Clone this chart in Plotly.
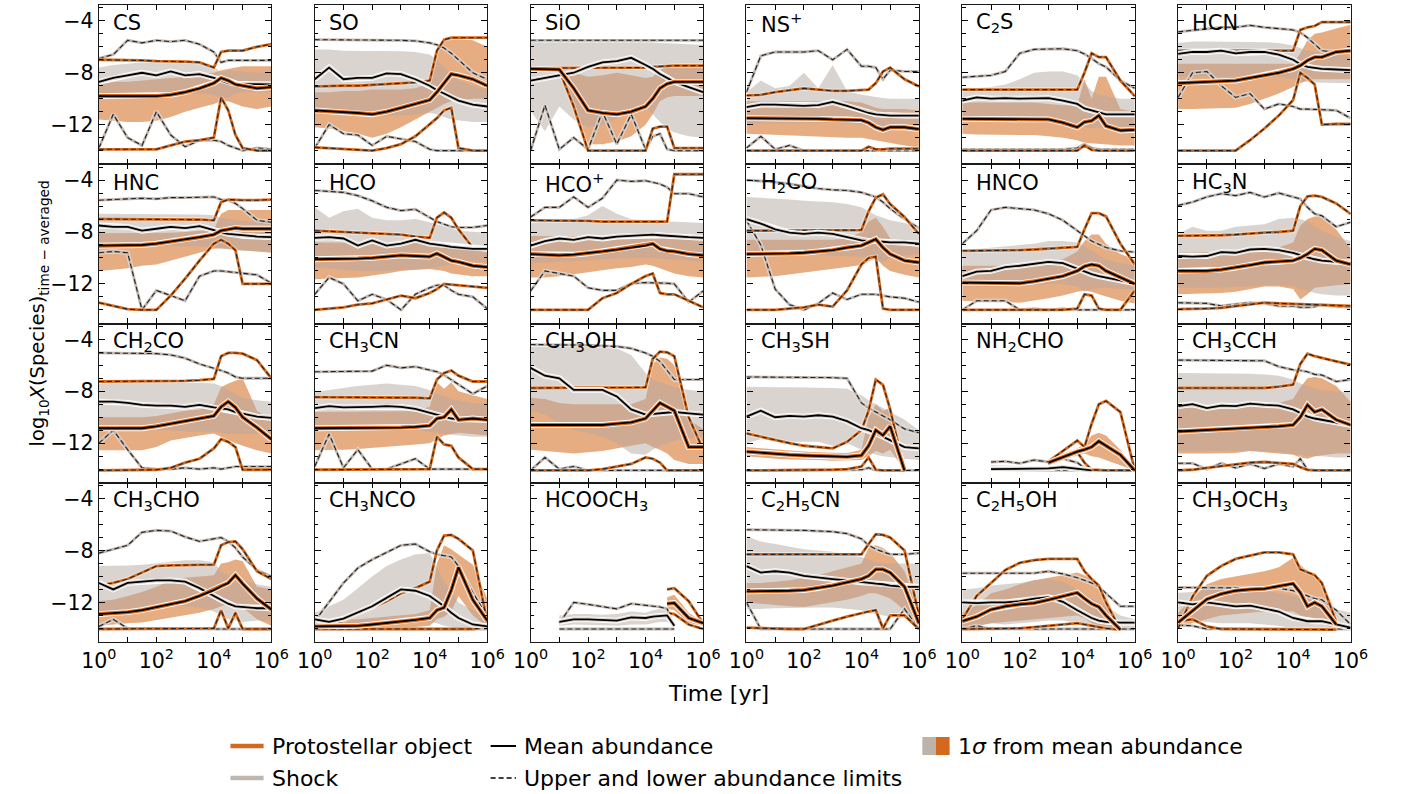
import plotly.graph_objects as go

# Time grid (log10 of years) shared by every curve
LOG_T = [0, 0.5, 1, 1.5, 2, 2.5, 3, 3.5, 4, 4.25, 4.5, 4.75, 5, 5.5, 6]
N = None

# ---- per-species abundances: mean, 1-sigma band (hi/lo), upper/lower limits ----
CS_P = dict(mean=[-9.8,-9.8,-9.8,-9.8,-9.8,-9.7,-9.5,-9.2,-8.8,-8.4,-8.6,-8.9,-9.0,-9.2,-9.1],
            s_hi=[-8.8,-8.7,-8.7,-8.6,-8.5,-8.4,-8.3,-8.1,-8.0,-7.8,-7.7,-7.6,-7.5,-7.5,-7.5],
            s_lo=[-11.6,-11.7,-11.8,-11.8,-11.7,-11.4,-11.0,-10.7,-10.4,-10.2,-10.2,-10.4,-10.6,-10.8,-10.6],
            lim_hi=[-7.0,-7.0,-7.05,-7.05,-7.1,-7.1,-7.15,-7.2,-7.6,-6.4,-6.3,-6.3,-6.3,-6.0,-5.8],
            lim_lo=[-13.9,-13.9,-13.9,-13.9,-13.9,-13.6,-13.3,-13.2,-13.0,-9.9,-10.9,-12.8,-13.8,-14.0,-14.0])
CS_S = dict(mean=[-8.7,-8.4,-8.2,-8.0,-8.2,-7.9,-8.2,-8.1,-8.4,-8.6,-8.8,-8.85,-8.85,-8.9,-8.9],
            s_hi=[-7.6,-7.4,-7.3,-7.2,-7.2,-7.2,-7.2,-7.3,-7.5,-8.0,-7.8,-7.9,-7.9,-8.0,-8.0],
            s_lo=[-9.9,-9.8,-9.7,-9.6,-9.6,-9.6,-9.6,-9.6,-9.7,-10.0,-9.9,-9.6,-9.5,-9.5,-9.5],
            lim_hi=[-6.9,-6.6,-5.5,-5.7,-5.5,-5.6,-5.5,-5.8,-6.4,-7.2,-7.05,-7.05,-7.05,-7.05,-7.05],
            lim_lo=[-13.8,-11.2,-13.0,-13.6,-11.0,-12.8,-13.7,-13.2,-13.2,-13.3,-13.6,-13.8,-14.0,-13.8,-13.9])

SO_P = dict(mean=[-10.9,-10.95,-11.0,-11.1,-11.2,-11.0,-10.7,-10.4,-10.1,-9.5,-8.8,-8.1,-8.2,-8.5,-9.0],
            s_hi=[-9.5,-9.5,-9.4,-9.4,-9.3,-9.3,-9.3,-9.2,-8.8,-6.5,-5.4,-5.3,-5.4,-5.5,-6.0],
            s_lo=[-12.2,-12.3,-12.5,-12.7,-13.0,-12.7,-12.2,-11.6,-11.0,-10.7,-10.4,-10.2,-10.1,-10.0,-10.0],
            lim_hi=[-9.05,-9.0,-9.0,-9.0,-8.95,-8.9,-8.85,-8.75,-8.6,-6.3,-5.45,-5.3,-5.3,-5.3,-5.3],
            lim_lo=[-13.75,-13.8,-13.85,-13.9,-14.0,-13.8,-13.5,-12.9,-12.0,-11.5,-10.9,-10.7,-13.8,-14.0,-14.0])
SO_S = dict(mean=[-8.5,-7.6,-8.5,-8.4,-8.4,-8.05,-8.1,-8.5,-9.0,-9.35,-9.6,-9.9,-10.15,-10.45,-10.6],
            s_hi=[-6.2,-6.2,-6.3,-6.3,-6.3,-6.3,-6.35,-6.4,-6.6,-7.0,-7.6,-8.2,-8.6,-9.0,-9.3],
            s_lo=[-11.2,-11.2,-11.1,-11.1,-11.2,-11.3,-11.3,-11.2,-11.1,-11.2,-11.4,-11.6,-11.7,-11.8,-11.8],
            lim_hi=[-5.45,-5.45,-5.45,-5.45,-5.45,-5.5,-5.5,-5.55,-5.7,-5.85,-6.1,-6.5,-7.0,-8.0,-8.5],
            lim_lo=[-13.8,-12.0,-12.7,-12.8,-13.6,-12.9,-13.1,-13.3,-13.9,-14.0,-14.0,-14.0,-14.0,-14.0,-14.0])

SIO_P = dict(mean=[-7.7,-7.7,-7.75,-9.2,-10.9,-11.1,-11.2,-11.0,-10.6,-10.0,-9.2,-8.85,-8.7,-8.7,-8.7],
             s_hi=[-7.7,-7.7,-7.7,-8.0,-8.3,-8.2,-8.0,-8.2,-8.4,-8.3,-7.8,-7.5,-7.4,-7.4,-7.4],
             s_lo=[-7.7,-7.7,-7.8,-10.5,-13.5,-13.5,-13.3,-12.9,-12.0,-11.2,-10.2,-9.9,-9.8,-9.8,-9.8],
             lim_hi=[-7.65,-7.65,-7.65,-7.65,-7.65,-7.65,-7.65,-7.65,-7.6,-7.55,-7.5,-7.45,-7.45,-7.45,-7.45],
             lim_lo=[-7.7,-7.7,-7.8,-10.6,-14.0,-14.0,-14.0,-14.0,-14.0,-12.3,-12.15,-12.15,-13.8,-13.8,-13.8])
SIO_S = dict(mean=[-8.6,-8.4,-8.2,-8.0,-7.55,-7.2,-7.1,-6.85,-7.4,-7.7,-8.1,-8.4,-8.7,-9.1,-9.5],
             s_hi=[-5.6,-5.65,-5.6,-5.65,-5.6,-5.6,-5.6,-5.65,-5.6,-5.65,-5.7,-5.7,-5.75,-5.8,-5.85],
             s_lo=[-10.9,-12.5,-10.6,-11.6,-12.2,-12.0,-11.5,-11.0,-10.7,-11.2,-11.8,-12.3,-12.6,-12.9,-13.0],
             lim_hi=[-5.5,-5.5,-5.5,-5.5,-5.5,-5.5,-5.5,-5.5,-5.5,-5.5,-5.5,-5.5,-5.5,-5.5,-5.5],
             lim_lo=[-14.0,-10.5,-13.9,-13.0,-13.9,-11.0,-13.5,-11.2,-13.9,-12.9,-12.7,-13.9,-14.0,-14.0,-14.0])

NSP_P = dict(mean=[-11.5,-11.5,-11.5,-11.5,-11.55,-11.55,-11.6,-11.6,-11.65,-11.85,-12.2,-12.4,-12.2,-12.2,-12.35],
             s_hi=[-10.2,-10.2,-10.2,-10.2,-10.2,-10.2,-10.2,-10.2,-10.3,-10.5,-10.7,-10.8,-10.8,-10.8,-10.9],
             s_lo=[-12.7,-12.7,-12.75,-12.8,-12.85,-12.9,-12.95,-13.0,-13.0,-13.1,-13.2,-13.3,-13.4,-13.6,-13.8],
             lim_hi=[-9.75,-9.7,-9.5,-9.35,-9.2,-9.3,-9.4,-9.4,-9.35,-9.3,-8.8,-7.9,-7.6,-8.5,-9.05],
             lim_lo=[-14.0,-14.0,-14.0,-14.0,-14.0,-14.0,-14.0,-14.0,-14.0,-13.7,-13.9,-13.9,-13.85,-13.85,-13.85])
NSP_S = dict(mean=[-10.65,-10.45,-10.45,-10.5,-10.55,-10.5,-10.25,-10.55,-10.9,-11.1,-11.2,-11.25,-11.3,-11.3,-11.3],
             s_hi=[-9.5,-8.6,-9.2,-9.0,-8.0,-9.2,-7.4,-9.4,-9.7,-9.8,-9.9,-9.95,-10.0,-10.0,-10.0],
             s_lo=[-11.9,-11.9,-11.9,-11.9,-11.9,-11.9,-11.8,-11.9,-12.0,-12.1,-12.2,-12.2,-12.3,-12.3,-12.3],
             lim_hi=[-9.5,-6.7,-6.4,-6.4,-6.4,-6.3,-7.0,-6.2,-7.5,-7.5,-7.6,-8.5,-7.8,-7.9,-7.9],
             lim_lo=[-13.8,-12.9,-13.9,-13.6,-14.0,-14.0,-14.0,-14.0,-14.0,-14.0,-14.0,-14.0,-14.0,-14.0,-14.0])

C2S_P = dict(mean=[-11.55,-11.55,-11.55,-11.55,-11.55,-11.55,-11.6,-11.85,-12.2,-11.8,-11.7,-11.3,-12.1,-12.45,-12.4],
             s_hi=[-10.3,-10.3,-10.3,-10.3,-10.3,-10.3,-10.4,-10.5,-10.5,-8.5,-10.0,-8.3,-8.3,-10.8,-11.0],
             s_lo=[-12.7,-12.75,-12.8,-12.8,-12.8,-12.8,-12.9,-13.0,-13.2,-13.4,-13.4,-13.5,-13.5,-13.6,-13.6],
             lim_hi=[-9.3,-9.3,-9.3,-9.3,-9.3,-9.3,-9.3,-9.3,-9.3,-8.0,-6.5,-6.8,-6.8,-8.6,-9.8],
             lim_lo=[-14.0,-14.0,-14.0,-14.0,-14.0,-14.0,-14.0,-14.0,-14.0,-13.6,-13.95,-14.0,-14.0,-14.0,-14.0])
C2S_S = dict(mean=[-10.15,-9.9,-10.0,-9.95,-10.0,-10.0,-9.95,-10.15,-10.4,-10.75,-10.9,-11.1,-11.2,-11.2,-11.2],
             s_hi=[-9.3,-9.2,-9.1,-8.9,-8.5,-8.0,-7.9,-7.9,-8.2,-8.8,-9.4,-9.7,-9.8,-10.0,-10.0],
             s_lo=[-11.7,-11.7,-11.7,-11.7,-11.7,-11.7,-11.7,-11.8,-12.0,-12.2,-12.3,-12.2,-12.3,-12.3,-12.3],
             lim_hi=[-8.35,-8.3,-8.2,-7.9,-6.5,-6.2,-6.15,-6.15,-6.3,-6.55,-6.9,-7.3,-7.55,-8.6,-9.2],
             lim_lo=[-13.9,-13.9,-13.9,-13.9,-13.9,-13.9,-13.9,-13.9,-13.8,-13.5,-13.8,-13.9,-13.9,-13.9,-13.9])

HCN_P = dict(mean=[-8.8,-8.75,-8.7,-8.65,-8.6,-8.4,-8.2,-8.0,-7.7,-7.45,-7.05,-6.8,-6.8,-6.4,-6.3],
             s_hi=[-7.3,-7.3,-7.3,-7.3,-7.3,-7.3,-7.3,-7.3,-7.3,-6.5,-5.5,-5.0,-4.9,-4.6,-4.3],
             s_lo=[-10.8,-10.8,-10.8,-10.75,-10.7,-10.4,-10.0,-9.6,-9.1,-8.8,-8.6,-8.5,-8.5,-8.5,-8.5],
             lim_hi=[-6.3,-6.3,-6.3,-6.3,-6.3,-6.3,-6.3,-6.3,-6.3,-4.7,-4.5,-4.4,-4.1,-4.1,-4.1],
             lim_lo=[-14.0,-14.0,-14.0,-14.0,-14.0,-13.2,-12.3,-11.3,-10.1,-8.0,-8.4,-8.9,-12.0,-11.95,-11.95])
HCN_S = dict(mean=[-6.55,-6.4,-6.4,-6.3,-6.5,-6.4,-6.4,-6.6,-7.0,-7.35,-7.55,-7.65,-7.7,-7.75,-7.8],
             s_hi=[-5.7,-5.6,-5.6,-5.6,-5.6,-5.6,-5.65,-5.7,-5.9,-6.1,-6.3,-6.4,-6.5,-6.6,-6.7],
             s_lo=[-8.3,-8.3,-8.3,-8.3,-8.3,-8.3,-8.3,-8.3,-8.5,-8.6,-8.7,-8.75,-8.8,-8.8,-8.8],
             lim_hi=[-4.85,-4.75,-4.6,-4.5,-4.5,-4.35,-4.5,-4.6,-4.7,-4.9,-5.3,-5.8,-6.3,-6.4,-6.4],
             lim_lo=[-9.9,-8.0,-7.9,-9.0,-9.9,-9.6,-10.8,-10.4,-10.6,-10.8,-10.8,-10.85,-10.85,-10.9,-11.5])

HNC_P = dict(mean=[-9.05,-9.05,-9.05,-9.0,-8.9,-8.75,-8.55,-8.4,-8.2,-7.9,-7.8,-7.7,-7.75,-7.75,-7.75],
             s_hi=[-8.1,-8.1,-8.1,-8.1,-8.1,-8.05,-8.0,-7.9,-7.8,-6.6,-6.3,-6.3,-6.3,-6.3,-6.3],
             s_lo=[-11.0,-10.9,-10.8,-10.6,-10.5,-10.2,-9.9,-9.6,-9.3,-9.25,-9.3,-9.35,-9.4,-9.5,-9.6],
             lim_hi=[-7.0,-7.0,-7.0,-7.0,-7.0,-7.0,-7.0,-7.05,-7.1,-5.7,-5.5,-5.55,-5.55,-5.55,-5.5],
             lim_lo=[-13.45,-13.7,-13.95,-14.0,-14.0,-12.9,-11.6,-10.2,-8.9,-8.6,-8.9,-9.4,-12.0,-12.0,-12.0])
HNC_S = dict(mean=[-7.5,-7.6,-7.6,-7.9,-7.75,-7.6,-7.7,-7.55,-7.85,-8.05,-8.15,-8.2,-8.3,-8.35,-8.4],
             s_hi=[-6.6,-6.6,-6.6,-6.6,-6.6,-6.6,-6.6,-6.65,-6.7,-6.9,-7.0,-7.1,-7.15,-7.2,-7.25],
             s_lo=[-9.1,-9.1,-9.1,-9.1,-9.1,-9.1,-9.1,-9.1,-9.2,-9.3,-9.35,-9.4,-9.45,-9.5,-9.5],
             lim_hi=[-5.55,-5.5,-5.45,-5.4,-5.45,-5.35,-5.35,-5.3,-5.3,-5.5,-5.55,-5.8,-6.2,-7.1,-7.25],
             lim_lo=[-9.6,-9.5,-9.6,-14.0,-12.5,-12.9,-13.3,-11.4,-11.0,-11.0,-11.05,-11.1,-11.15,-11.3,-11.95])

HCO_P = dict(mean=[-10.1,-10.1,-10.1,-10.05,-10.0,-9.9,-9.8,-9.85,-9.9,-9.65,-9.9,-10.2,-10.3,-10.6,-10.7],
             s_hi=[-8.8,-8.8,-8.8,-8.8,-8.8,-8.8,-8.8,-8.8,-8.85,-8.9,-8.9,-9.0,-9.1,-9.3,-9.4],
             s_lo=[-11.65,-11.6,-11.55,-11.5,-11.35,-11.2,-11.0,-10.9,-10.85,-10.9,-11.0,-11.2,-11.3,-11.4,-11.4],
             lim_hi=[-7.9,-7.95,-8.0,-8.05,-8.1,-8.15,-8.2,-8.35,-8.45,-6.9,-6.5,-6.9,-7.8,-9.2,-9.3],
             lim_lo=[-14.0,-13.9,-13.8,-13.6,-13.5,-13.2,-12.9,-13.1,-12.7,-12.4,-12.0,-12.05,-12.1,-12.2,-12.3])
HCO_S = dict(mean=[-8.45,-8.4,-8.5,-9.05,-8.65,-9.05,-8.9,-8.6,-8.9,-8.95,-9.05,-9.15,-9.2,-9.3,-9.3],
             s_hi=[-6.1,-6.9,-6.4,-6.2,-6.9,-7.1,-7.1,-7.0,-7.25,-7.4,-7.5,-7.7,-7.9,-8.0,-8.05],
             s_lo=[-10.7,-10.8,-10.9,-11.0,-11.0,-11.0,-10.9,-10.9,-10.8,-10.7,-10.6,-10.5,-10.4,-10.3,-10.3],
             lim_hi=[-4.8,-4.9,-4.95,-5.2,-5.6,-6.1,-6.35,-6.25,-6.85,-7.2,-7.4,-7.6,-7.65,-7.65,-7.5],
             lim_lo=[-12.8,-11.5,-12.0,-13.3,-12.8,-13.2,-14.0,-12.8,-12.3,-12.1,-12.1,-12.5,-12.8,-13.0,-13.9])

HCOP_P = dict(mean=[-9.7,-9.75,-9.8,-9.75,-9.65,-9.5,-9.35,-9.2,-9.05,-8.9,-9.3,-9.45,-9.5,-9.7,-9.8],
              s_hi=[-8.3,-8.3,-8.3,-8.3,-8.3,-8.3,-8.3,-8.3,-8.35,-8.4,-8.4,-8.45,-8.5,-8.5,-8.55],
              s_lo=[-11.5,-11.5,-11.4,-11.3,-11.1,-10.95,-10.8,-10.7,-10.5,-10.6,-10.8,-11.0,-11.2,-11.4,-11.5],
              lim_hi=[-7.1,-7.1,-7.1,-7.15,-7.15,-7.2,-7.2,-7.2,-7.2,-7.2,-7.2,-7.2,-3.55,-3.55,-3.55],
              lim_lo=[-14.0,-14.0,-14.0,-14.0,-14.0,-13.1,-12.7,-12.0,-11.4,-11.2,-12.7,-12.8,-12.8,-13.3,-13.8])
HCOP_S = dict(mean=[-9.05,-8.7,-8.5,-8.6,-8.4,-8.5,-8.35,-8.3,-8.2,-8.2,-8.25,-8.3,-8.35,-8.4,-8.45],
              s_hi=[-7.3,-7.2,-7.1,-7.0,-6.7,-6.0,-6.6,-7.0,-7.1,-7.1,-7.15,-7.2,-7.2,-7.25,-7.3],
              s_lo=[-10.4,-10.3,-10.25,-10.2,-10.15,-10.1,-10.05,-10.0,-10.0,-10.0,-10.05,-10.1,-10.15,-10.2,-10.3],
              lim_hi=[-6.85,-6.1,-6.1,-5.3,-6.1,-5.4,-4.0,-4.1,-4.05,-4.15,-4.3,-4.55,-5.05,-5.05,-5.3],
              lim_lo=[-12.55,-11.0,-11.2,-11.4,-12.3,-12.5,-12.5,-11.95,-11.9,-11.9,-11.9,-11.95,-12.0,-13.4,-12.55])

H2CO_P = dict(mean=[-9.7,-9.7,-9.7,-9.65,-9.6,-9.5,-9.4,-9.2,-9.05,-8.8,-8.55,-9.2,-9.7,-10.2,-10.35],
              s_hi=[-8.6,-8.6,-8.6,-8.6,-8.6,-8.6,-8.6,-8.5,-8.0,-7.2,-6.9,-7.6,-8.5,-9.0,-9.2],
              s_lo=[-11.5,-11.45,-11.4,-11.3,-11.15,-11.0,-10.85,-10.7,-10.55,-10.3,-10.0,-10.6,-11.0,-11.3,-11.5],
              lim_hi=[-7.9,-7.9,-7.9,-7.9,-7.9,-7.9,-7.9,-7.9,-7.85,-6.4,-5.35,-5.1,-5.85,-6.85,-8.15],
              lim_lo=[-14.0,-14.0,-14.0,-13.9,-13.8,-13.6,-13.75,-12.5,-10.5,-10.0,-9.9,-13.9,-14.0,-14.0,-14.0])
H2CO_S = dict(mean=[-7.0,-7.35,-7.8,-8.05,-8.15,-8.05,-8.15,-8.4,-8.65,-8.7,-8.7,-8.75,-8.8,-8.8,-8.9],
              s_hi=[-5.3,-5.35,-5.4,-5.5,-5.6,-5.65,-5.7,-5.85,-6.1,-6.4,-6.7,-6.9,-7.1,-7.3,-7.6],
              s_lo=[-9.6,-9.6,-9.65,-9.7,-9.75,-9.8,-9.8,-9.85,-9.9,-10.0,-10.2,-10.3,-10.0,-9.8,-9.7],
              lim_hi=[-4.0,-4.05,-4.15,-4.3,-4.5,-4.65,-4.75,-4.8,-4.95,-5.1,-5.3,-5.7,-6.2,-7.0,-7.7],
              lim_lo=[-7.1,-9.0,-12.4,-13.6,-14.0,-13.5,-12.7,-13.2,-12.8,-12.8,-12.8,-12.9,-13.0,-13.1,-13.4])

HNCO_P = dict(mean=[-11.9,-11.9,-11.9,-11.95,-11.95,-11.8,-11.6,-11.4,-11.0,-10.65,-10.5,-10.6,-11.0,-11.5,-12.0],
              s_hi=[-10.6,-10.6,-10.6,-10.6,-10.6,-10.5,-10.3,-10.1,-9.5,-8.7,-8.2,-8.2,-8.9,-9.7,-10.1],
              s_lo=[-13.3,-13.35,-13.4,-13.4,-13.45,-13.3,-13.1,-12.9,-12.6,-12.5,-12.6,-12.8,-13.0,-13.3,-13.5],
              lim_hi=[-9.45,-9.45,-9.45,-9.45,-9.4,-9.35,-9.3,-9.25,-9.15,-7.8,-6.55,-6.55,-6.8,-8.9,-10.5],
              lim_lo=[-14.0,-14.0,-14.0,-14.0,-14.0,-14.0,-14.0,-14.0,-13.9,-12.8,-12.9,-13.9,-14.0,-14.0,-12.5])
HNCO_S = dict(mean=[-11.4,-11.05,-11.0,-10.7,-10.6,-10.45,-10.3,-10.4,-10.85,-11.05,-11.25,-11.4,-11.5,-11.75,-11.95],
              s_hi=[-9.4,-9.3,-9.2,-9.1,-9.0,-8.9,-8.7,-8.7,-8.8,-9.1,-9.4,-9.8,-10.1,-10.4,-10.6],
              s_lo=[-12.2,-12.2,-12.2,-12.2,-12.2,-12.1,-12.0,-12.0,-12.2,-12.6,-12.4,-12.3,-12.3,-12.4,-12.4],
              lim_hi=[-8.9,-7.9,-6.3,-6.1,-6.2,-6.3,-6.6,-7.1,-7.9,-8.3,-8.7,-8.95,-9.2,-9.45,-9.55],
              lim_lo=[-14.0,-13.3,-13.3,-13.3,-14.0,-13.9,-14.0,-13.9,-14.0,-14.0,-14.0,-14.0,-14.0,-14.0,-14.0])

HC3N_P = dict(mean=[-11.0,-11.0,-11.0,-10.9,-10.75,-10.55,-10.35,-10.3,-10.2,-10.0,-9.7,-9.3,-9.4,-10.2,-10.5],
              s_hi=[-9.6,-9.6,-9.6,-9.55,-9.5,-9.4,-9.3,-9.2,-8.8,-7.5,-7.0,-6.8,-6.75,-7.8,-9.3],
              s_lo=[-12.8,-12.8,-12.75,-12.7,-12.6,-12.4,-12.2,-12.2,-12.4,-13.2,-12.8,-12.3,-12.2,-12.1,-12.0],
              lim_hi=[-8.3,-8.3,-8.3,-8.25,-8.2,-8.1,-8.05,-8.0,-7.9,-6.0,-5.25,-5.2,-5.3,-5.8,-6.6],
              lim_lo=[-13.95,-13.95,-13.9,-13.85,-13.7,-13.55,-13.45,-13.5,-13.55,-13.55,-13.6,-13.6,-13.6,-13.65,-13.7])
HC3N_S = dict(mean=[-9.85,-9.9,-9.85,-9.55,-9.6,-9.35,-9.3,-9.4,-9.6,-9.8,-9.95,-10.1,-10.2,-10.3,-10.35],
              s_hi=[-8.15,-7.6,-7.9,-7.9,-7.6,-7.5,-7.4,-7.0,-6.9,-7.0,-7.2,-7.6,-7.9,-8.4,-8.7],
              s_lo=[-12.3,-12.3,-12.3,-12.3,-12.2,-12.2,-12.1,-12.1,-12.2,-12.4,-12.5,-12.7,-12.8,-12.9,-12.9],
              lim_hi=[-5.95,-5.7,-5.3,-5.05,-5.2,-4.95,-5.3,-5.0,-5.3,-5.45,-6.1,-6.6,-6.75,-7.6,-7.25],
              lim_lo=[-13.45,-13.45,-13.5,-13.7,-13.6,-13.45,-13.5,-13.7,-13.7,-13.8,-13.8,-13.75,-13.6,-13.75,-13.8])

CH2CO_P = dict(mean=[-10.85,-10.85,-10.85,-10.85,-10.7,-10.5,-10.3,-10.1,-9.9,-9.2,-8.8,-9.25,-10.0,-10.8,-11.7],
               s_hi=[-10.0,-10.0,-10.0,-10.0,-9.9,-9.7,-9.5,-9.4,-9.0,-7.7,-7.4,-7.2,-7.0,-9.5,-10.2],
               s_lo=[-12.55,-12.55,-12.55,-12.55,-12.3,-11.8,-11.6,-11.4,-11.25,-11.5,-11.8,-12.0,-12.2,-12.55,-12.8],
               lim_hi=[-7.25,-7.25,-7.25,-7.25,-7.25,-7.2,-7.2,-7.15,-7.05,-5.3,-5.05,-5.05,-5.1,-5.6,-7.0],
               lim_lo=[-14.1,-14.1,-14.1,-14.1,-14.05,-13.9,-13.5,-13.2,-12.4,-11.7,-11.9,-12.3,-14.05,-14.05,-14.05])
CH2CO_S = dict(mean=[-8.8,-8.8,-8.9,-9.05,-9.1,-9.1,-9.2,-9.05,-9.25,-9.3,-9.4,-9.6,-9.7,-9.95,-10.05],
               s_hi=[-7.4,-7.35,-7.3,-7.3,-7.3,-7.3,-7.3,-7.35,-7.4,-7.6,-7.9,-8.2,-8.5,-8.7,-8.8],
               s_lo=[-11.0,-11.0,-11.0,-11.0,-11.0,-11.0,-11.1,-11.1,-11.1,-11.2,-11.3,-11.3,-11.3,-11.3,-11.2],
               lim_hi=[-5.05,-5.05,-5.05,-5.05,-5.1,-5.2,-5.45,-5.9,-6.2,-6.4,-6.6,-6.9,-7.0,-7.0,-7.0],
               lim_lo=[-12.0,-11.0,-12.5,-13.9,-14.0,-14.0,-13.9,-14.0,-13.9,-14.0,-13.9,-13.8,-13.8,-13.8,-13.8])

CH3CN_P = dict(mean=[-10.85,-10.85,-10.85,-10.85,-10.85,-10.8,-10.8,-10.75,-10.65,-10.1,-10.0,-9.4,-10.2,-10.1,-10.2],
               s_hi=[-9.6,-9.6,-9.6,-9.6,-9.6,-9.6,-9.55,-9.5,-9.2,-7.3,-7.8,-7.3,-8.0,-8.3,-8.6],
               s_lo=[-12.55,-12.5,-12.5,-12.45,-12.4,-12.3,-12.2,-12.1,-12.0,-11.7,-11.4,-11.3,-11.2,-11.3,-11.4],
               lim_hi=[-8.45,-8.45,-8.45,-8.45,-8.45,-8.45,-8.5,-8.5,-8.55,-7.1,-6.6,-6.4,-6.8,-7.25,-7.25],
               lim_lo=[-14.05,-14.05,-14.05,-14.05,-14.05,-14.05,-14.05,-14.05,-14.0,-11.5,-12.1,-12.2,-13.1,-14.0,-14.0])
CH3CN_S = dict(mean=[-9.3,-9.15,-9.25,-9.25,-9.2,-9.15,-9.2,-9.35,-9.65,-9.8,-10.0,-10.1,-10.15,-10.2,-10.2],
               s_hi=[-8.05,-7.9,-7.7,-7.6,-7.5,-7.4,-7.5,-7.6,-7.9,-8.2,-8.4,-8.6,-8.7,-8.9,-9.0],
               s_lo=[-11.0,-11.0,-11.0,-11.0,-11.0,-11.0,-11.0,-11.0,-11.1,-11.2,-11.3,-11.4,-11.4,-11.5,-11.5],
               lim_hi=[-6.5,-6.5,-6.5,-6.5,-6.45,-6.0,-6.2,-6.1,-6.35,-6.5,-6.75,-7.1,-7.5,-8.2,-7.6],
               lim_lo=[-13.8,-11.3,-13.9,-12.5,-14.0,-14.0,-13.6,-13.2,-14.0,-14.0,-14.0,-14.0,-14.0,-14.0,-14.0])

CH3OH_P = dict(mean=[-10.6,-10.6,-10.65,-10.65,-10.65,-10.6,-10.5,-10.4,-10.1,-9.5,-8.9,-9.2,-9.5,-12.3,-12.3],
               s_hi=[-8.5,-8.6,-8.9,-9.0,-9.0,-9.0,-9.0,-9.0,-8.6,-5.9,-5.4,-5.5,-6.0,-10.2,-10.9],
               s_lo=[-12.5,-12.6,-12.7,-12.8,-12.7,-12.6,-12.4,-12.2,-12.0,-12.3,-12.5,-12.8,-13.3,-13.6,-13.6],
               lim_hi=[-7.75,-7.75,-7.75,-7.75,-7.75,-7.75,-7.75,-7.75,-7.7,-5.5,-4.95,-5.0,-5.3,-10.0,-12.5],
               lim_lo=[-14.1,-14.1,-14.1,-14.1,-14.1,-14.0,-13.8,-13.6,-13.1,-13.2,-13.5,-14.1,-14.1,-14.1,-14.1])
CH3OH_S = dict(mean=[-6.2,-6.8,-7.0,-7.9,-7.9,-7.9,-8.4,-9.4,-9.8,-9.75,-9.7,-9.65,-9.6,-9.7,-9.8],
               s_hi=[-4.55,-4.55,-4.6,-4.6,-4.6,-4.65,-4.7,-5.2,-6.6,-7.1,-7.3,-7.5,-7.7,-7.9,-8.0],
               s_lo=[-9.5,-9.8,-10.5,-11.0,-11.2,-11.5,-12.0,-12.8,-12.9,-12.5,-12.2,-12.0,-11.8,-11.6,-11.5],
               lim_hi=[-4.4,-4.4,-4.4,-4.4,-4.45,-4.5,-4.55,-4.7,-5.05,-5.3,-5.7,-6.4,-7.1,-7.1,-7.1],
               lim_lo=[-14.1,-13.1,-14.0,-13.8,-14.1,-14.1,-14.1,-14.1,-14.1,-14.1,-14.1,-14.1,-14.1,-14.1,-14.1])

CH3SH_P = dict(mean=[-12.65,-12.75,-12.85,-12.9,-12.95,-13.0,-13.05,-13.05,-12.95,-12.2,-11.0,-11.4,-10.7,-14.1,N],
               s_hi=[-12.3,-12.4,-12.5,-12.6,-12.65,-12.7,-12.75,-12.75,-12.5,-10.0,-9.0,-9.5,-9.3,-14.0,N],
               s_lo=[-13.0,-13.1,-13.2,-13.25,-13.3,-13.3,-13.35,-13.35,-13.3,-13.0,-12.6,-12.8,-12.5,-14.1,N],
               lim_hi=[-11.25,-11.5,-11.8,-12.0,-12.2,-12.3,-12.4,-11.9,-11.0,-9.5,-7.1,-7.5,-9.4,-14.1,N],
               lim_lo=[-14.1,-14.1,-14.1,-14.1,-14.1,-14.1,-14.05,-14.0,-13.8,-13.1,-14.05,-14.1,-14.1,-14.1,N])
CH3SH_S = dict(mean=[-9.95,-9.5,-10.0,-9.9,-9.95,-9.85,-9.95,-10.3,-10.85,-11.0,-11.25,-11.5,-11.75,-12.3,-12.4],
               s_hi=[-7.65,-7.7,-7.7,-7.7,-7.7,-7.75,-7.75,-7.8,-8.3,-8.7,-9.0,-9.3,-9.6,-10.2,-11.0],
               s_lo=[-12.0,-11.7,-11.8,-11.9,-11.9,-11.9,-12.2,-12.0,-12.5,-12.7,-12.9,-13.0,-13.1,-13.2,-13.3],
               lim_hi=[-6.9,-6.9,-6.9,-6.9,-6.9,-6.9,-6.95,-7.0,-8.9,-9.3,-9.6,-9.9,-10.2,-10.9,-11.2],
               lim_lo=[-14.1,-14.1,-14.1,-14.1,-14.1,-14.1,-14.1,-14.1,-14.05,-13.9,-14.1,-14.1,-14.1,-14.1,-14.1])

NH2CHO_P = dict(mean=[N,N,N,N,N,N,-13.5,-13.05,-12.65,-12.5,-12.3,-11.85,-12.2,-12.9,-14.1],
                s_hi=[N,N,N,N,N,N,-13.4,-12.8,-12.4,-12.1,-11.4,-11.2,-11.4,-12.5,-14.1],
                s_lo=[N,N,N,N,N,N,-13.6,-13.3,-12.95,-12.8,-13.0,-13.1,-13.3,-13.7,-14.1],
                lim_hi=[N,N,N,N,N,N,-13.4,-12.6,-11.8,-12.3,-10.5,-9.0,-8.75,-9.6,-14.1],
                lim_lo=[N,N,N,N,N,N,-13.6,-13.2,-12.7,-13.5,-14.05,-14.1,-14.1,-14.1,-14.1])
NH2CHO_S = dict(mean=[N,N,-14.0,-14.0,-14.0,-14.0,-13.95,-13.85,-14.0,-14.05,-14.1,N,N,N,N],
                s_hi=[N,N,-13.7,-13.75,-13.75,-13.8,-13.75,-13.7,-13.8,-13.9,-14.0,N,N,N,N],
                s_lo=[N,N,-14.1,-14.1,-14.1,-14.1,-14.1,-14.05,-14.1,-14.1,-14.1,N,N,N,N],
                lim_hi=[N,N,-13.45,-13.4,-13.55,-13.3,-13.45,-13.2,-13.5,-13.9,-14.05,N,N,N,N],
                lim_lo=[N,N,-14.1,-14.1,-14.1,-14.1,-14.1,-14.1,-14.1,-14.1,-14.1,N,N,N,N])

CH3CCH_P = dict(mean=[-11.1,-11.05,-11.0,-10.95,-10.9,-10.8,-10.75,-10.7,-10.6,-10.0,-9.05,-9.6,-9.4,-10.2,-10.6],
                s_hi=[-9.3,-9.3,-9.3,-9.25,-9.2,-9.1,-9.0,-8.9,-8.6,-7.7,-7.0,-6.9,-7.0,-7.6,-8.8],
                s_lo=[-12.8,-12.8,-12.8,-12.8,-12.75,-12.6,-12.7,-12.8,-12.9,-13.1,-13.2,-13.0,-12.9,-12.8,-12.8],
                lim_hi=[-7.75,-7.75,-7.75,-7.75,-7.75,-7.75,-7.75,-7.65,-7.5,-5.9,-5.1,-5.3,-5.45,-5.7,-5.95],
                lim_lo=[-14.1,-14.05,-13.9,-13.75,-13.6,-13.5,-13.45,-13.5,-13.6,-13.85,-14.05,-14.1,-14.1,-14.1,-14.1])
CH3CCH_S = dict(mean=[-9.15,-9.0,-9.3,-9.1,-9.15,-8.95,-9.05,-9.1,-9.4,-9.65,-9.95,-10.1,-10.2,-10.4,-10.6],
                s_hi=[-6.6,-6.6,-6.6,-6.6,-6.6,-6.65,-6.7,-6.8,-7.1,-7.4,-7.6,-7.8,-7.95,-8.0,-8.05],
                s_lo=[-12.6,-12.6,-12.6,-12.6,-12.6,-12.6,-12.6,-12.7,-12.8,-12.9,-13.0,-13.0,-13.0,-13.1,-13.1],
                lim_hi=[-5.6,-5.6,-5.6,-5.6,-5.6,-5.6,-5.65,-6.1,-6.35,-6.4,-6.5,-6.7,-6.75,-7.25,-7.1],
                lim_lo=[-13.55,-13.55,-14.0,-13.55,-13.9,-13.6,-13.95,-13.6,-13.8,-13.2,-14.05,-14.1,-14.1,-14.1,-14.1])

CH3CHO_P = dict(mean=[-12.9,-12.85,-12.75,-12.6,-12.35,-12.15,-11.9,-11.5,-11.05,-10.75,-10.5,-9.9,-10.55,-11.7,-12.55],
                s_hi=[-11.9,-11.8,-11.5,-11.2,-10.8,-10.3,-10.1,-10.0,-9.9,-9.0,-8.9,-8.7,-8.8,-10.8,-11.0],
                s_lo=[-13.8,-13.7,-13.6,-13.55,-13.4,-13.2,-13.0,-12.8,-12.5,-12.3,-12.1,-12.2,-12.4,-13.3,-13.8],
                lim_hi=[-10.7,-10.5,-10.2,-9.7,-9.2,-9.15,-9.1,-9.1,-9.1,-7.6,-7.35,-7.3,-7.9,-9.6,-10.2],
                lim_lo=[-14.05,-14.05,-14.05,-14.05,-14.05,-14.05,-14.05,-14.05,-14.0,-12.6,-14.0,-12.8,-14.05,-14.05,-14.05])
CH3CHO_S = dict(mean=[-10.5,-11.0,-10.5,-10.4,-10.3,-10.3,-10.4,-10.9,-11.5,-11.8,-12.1,-12.3,-12.35,-12.45,-12.45],
                s_hi=[-9.2,-9.2,-9.15,-9.1,-9.0,-8.9,-8.75,-8.75,-8.9,-9.6,-9.9,-10.1,-10.3,-10.6,-10.8],
                s_lo=[-12.9,-12.7,-12.6,-12.5,-12.4,-12.3,-12.3,-12.4,-12.7,-13.0,-13.3,-13.4,-13.5,-13.4,-13.4],
                lim_hi=[-8.2,-7.9,-7.6,-6.6,-6.45,-6.5,-6.95,-7.3,-7.1,-7.0,-7.3,-7.8,-8.5,-9.5,-10.0],
                lim_lo=[-13.85,-13.3,-14.0,-14.05,-14.05,-14.05,-14.05,-14.05,-14.05,-14.05,-14.05,-14.05,-14.05,-14.05,-14.05])

CH3NCO_P = dict(mean=[-13.85,-13.85,-13.85,-13.8,-13.7,-13.6,-13.45,-13.35,-13.2,-12.6,-12.4,-11.05,-9.3,-11.8,-13.4],
                s_hi=[-13.3,-13.3,-13.3,-13.3,-13.2,-13.1,-13.0,-12.9,-12.6,-9.0,-7.6,-7.9,-8.3,-9.1,-11.7],
                s_lo=[-14.05,-14.05,-14.05,-14.05,-14.05,-14.0,-14.0,-13.9,-13.8,-13.3,-13.1,-12.7,-11.5,-13.0,-13.9],
                lim_hi=[-14.0,-13.8,-13.4,-12.9,-12.4,-11.9,-11.3,-10.9,-10.4,-8.0,-6.85,-6.8,-7.1,-8.0,-13.5],
                lim_lo=[-14.05,-14.05,-14.05,-14.05,-14.05,-14.05,-14.05,-14.05,-14.05,-14.05,-14.05,-14.05,-14.05,-14.05,-13.9])
CH3NCO_S = dict(mean=[-13.3,-13.5,-13.25,-12.8,-12.3,-11.65,-11.0,-11.1,-11.5,-11.9,-12.3,-12.8,-13.2,-13.7,-13.85],
                s_hi=[-12.8,-12.3,-11.8,-10.9,-10.0,-9.2,-8.7,-8.3,-8.2,-9.3,-10.4,-11.2,-12.0,-12.6,-13.1],
                s_lo=[-14.05,-14.05,-14.05,-14.0,-13.9,-13.7,-13.5,-13.4,-13.5,-13.6,-13.8,-13.9,-14.0,-14.05,-14.05],
                lim_hi=[-13.45,-12.0,-10.5,-9.35,-8.7,-8.15,-7.6,-7.5,-8.1,-8.3,-8.4,-8.5,-9.2,-11.25,-13.05],
                lim_lo=[-14.05,-14.05,-14.05,-14.05,-14.05,-14.05,-14.05,-14.05,-14.05,-14.05,-14.05,-14.05,-14.05,-14.05,-14.05])

HCOOCH3_P = dict(mean=[N,N,N,N,N,N,N,N,N,N,N,-12.1,-12.05,-13.2,-13.6],
                 s_hi=[N,N,N,N,N,N,N,N,N,N,N,-11.6,-11.4,-12.8,-13.5],
                 s_lo=[N,N,N,N,N,N,N,N,N,N,N,-12.5,-12.6,-13.6,-13.8],
                 lim_hi=[N,N,N,N,N,N,N,N,N,N,N,-11.0,-10.9,-11.9,-13.6],
                 lim_lo=[N,N,N,N,N,N,N,N,N,N,N,-12.8,-12.9,-13.7,-14.05])
HCOOCH3_S = dict(mean=[N,N,-13.5,-13.3,-13.3,-13.35,-13.4,-13.15,-13.2,-13.1,-13.05,-13.0,-13.8,N,N],
                 s_hi=[N,N,-13.0,-12.9,-12.9,-12.95,-12.9,-12.7,-12.8,-12.6,-12.5,-12.6,-13.7,N,N],
                 s_lo=[N,N,-13.8,-13.7,-13.7,-13.75,-13.8,-13.7,-13.7,-13.6,-13.5,-13.5,-13.9,N,N],
                 lim_hi=[N,N,-13.6,-12.0,-12.15,-12.35,-12.5,-12.1,-12.2,-12.3,-12.35,-12.5,-13.8,N,N],
                 lim_lo=[N,N,-14.05,-14.05,-14.05,-14.05,-14.05,-14.05,-14.05,-14.05,-14.05,-14.05,-14.05,N,N])

C2H5CN_P = dict(mean=[-11.15,-11.15,-11.15,-11.1,-11.05,-10.9,-10.7,-10.45,-10.2,-9.95,-9.45,-9.45,-9.7,-10.8,-13.6],
                s_hi=[-10.5,-10.5,-10.4,-10.3,-10.1,-9.9,-9.6,-9.3,-9.0,-7.8,-7.6,-7.8,-8.2,-9.6,-12.6],
                s_lo=[-12.0,-12.1,-12.2,-12.3,-12.35,-12.2,-12.0,-11.8,-11.5,-11.3,-11.3,-11.5,-11.7,-12.6,-13.9],
                lim_hi=[-8.3,-8.3,-8.3,-8.3,-8.3,-8.3,-8.3,-8.3,-8.3,-7.5,-6.75,-6.8,-7.0,-8.0,-13.0],
                lim_lo=[-13.95,-14.0,-14.0,-14.05,-14.05,-13.7,-13.4,-13.1,-12.8,-12.7,-12.6,-14.0,-13.0,-13.0,-14.05])
C2H5CN_S = dict(mean=[-9.2,-9.7,-9.6,-9.7,-9.95,-10.1,-10.2,-10.3,-10.45,-10.5,-10.55,-10.6,-10.7,-10.8,-10.8],
                s_hi=[-6.9,-7.3,-7.5,-7.7,-7.9,-8.0,-8.1,-8.3,-8.5,-8.7,-8.9,-9.0,-9.0,-9.0,-9.0],
                s_lo=[-12.5,-12.5,-12.45,-12.4,-12.4,-12.4,-12.4,-12.5,-12.6,-12.8,-12.9,-13.0,-13.1,-13.2,-13.2],
                lim_hi=[-6.4,-6.4,-6.4,-6.4,-6.45,-6.5,-6.55,-6.7,-7.1,-7.6,-7.9,-8.1,-8.3,-8.3,-8.2],
                lim_lo=[-12.0,-14.05,-14.05,-14.05,-14.05,-14.05,-14.05,-14.05,-14.05,-14.05,-14.05,-14.05,-14.05,-12.5,-14.05])

C2H5OH_P = dict(mean=[-13.45,-13.1,-12.55,-12.3,-12.15,-12.05,-11.8,-11.5,-11.25,-11.7,-12.1,-12.35,-13.0,-14.1,N],
                s_hi=[-12.8,-12.2,-11.3,-11.0,-10.6,-10.3,-10.1,-9.9,-9.7,-9.9,-10.2,-10.8,-11.5,-14.1,N],
                s_lo=[-14.05,-13.8,-13.6,-13.5,-13.4,-13.3,-13.2,-13.1,-13.0,-13.2,-13.6,-13.8,-14.0,-14.1,N],
                lim_hi=[-13.3,-11.5,-10.5,-9.5,-8.95,-8.75,-8.65,-8.65,-8.65,-9.6,-10.2,-10.7,-12.0,-14.1,N],
                lim_lo=[-14.05,-14.05,-14.05,-14.05,-14.0,-13.9,-13.8,-13.7,-13.6,-13.7,-13.8,-13.9,-14.0,-14.1,N])
C2H5OH_S = dict(mean=[-12.0,-12.05,-12.0,-12.0,-11.9,-11.7,-11.6,-11.95,-12.6,-12.9,-13.2,-13.4,-13.5,-13.55,-13.55],
                s_hi=[-11.0,-10.9,-10.7,-10.6,-10.5,-10.3,-10.2,-10.4,-11.0,-11.4,-11.7,-12.0,-12.3,-13.0,-13.3],
                s_lo=[-14.05,-13.8,-13.6,-13.7,-13.6,-13.5,-13.4,-13.4,-13.6,-13.8,-14.0,-14.05,-14.1,-14.1,-14.1],
                lim_hi=[-9.75,-9.75,-9.75,-9.75,-9.75,-9.75,-9.6,-9.8,-10.1,-10.3,-10.5,-10.8,-11.3,-12.3,-12.3],
                lim_lo=[-14.05,-13.8,-14.05,-14.05,-14.05,-14.05,-14.05,-14.05,-14.05,-14.05,-14.05,-14.05,-14.05,-14.05,-14.05])

CH3OCH3_P = dict(mean=[-13.55,-12.65,-11.75,-11.35,-11.1,-11.0,-10.95,-10.75,-10.55,-11.25,-12.3,-12.0,-12.3,-13.7,N],
                 s_hi=[-12.8,-11.7,-10.6,-10.2,-10.0,-9.8,-9.6,-9.3,-8.55,-9.1,-9.6,-9.8,-10.4,-12.8,N],
                 s_lo=[-14.0,-13.6,-13.3,-13.0,-12.9,-12.8,-12.7,-12.7,-12.7,-13.0,-13.3,-13.5,-13.6,-14.1,N],
                 lim_hi=[-14.0,-11.55,-9.95,-9.2,-8.65,-8.4,-8.15,-8.15,-8.3,-9.45,-9.7,-9.9,-10.5,-13.5,N],
                 lim_lo=[-13.45,-13.3,-13.85,-14.05,-14.05,-14.05,-14.05,-14.05,-14.05,-14.05,-14.05,-14.05,-14.05,-14.1,N])
CH3OCH3_S = dict(mean=[-12.0,-12.15,-12.0,-12.15,-12.3,-12.25,-12.45,-12.7,-13.2,-13.3,-13.45,-13.45,-13.45,-13.7,-13.95],
                 s_hi=[-11.25,-11.2,-11.0,-11.0,-11.0,-11.05,-11.1,-11.3,-11.5,-11.6,-11.7,-11.9,-12.1,-12.5,-12.8],
                 s_lo=[-13.3,-13.4,-13.5,-13.6,-13.6,-13.6,-13.7,-13.8,-14.0,-14.05,-14.05,-14.05,-14.05,-14.05,-14.05],
                 lim_hi=[-10.85,-10.85,-10.85,-10.85,-10.85,-10.85,-10.85,-10.9,-11.1,-11.3,-11.5,-11.7,-11.8,-12.6,-13.7],
                 lim_lo=[-13.75,-13.8,-14.05,-14.0,-14.05,-14.05,-14.05,-14.05,-14.05,-14.05,-14.05,-14.05,-14.05,-14.05,-14.05])

# Panel order (row-major) with species labels
PANELS = [
    ("CS", CS_P, CS_S), ("SO", SO_P, SO_S), ("SiO", SIO_P, SIO_S),
    ("NS<sup>+</sup>", NSP_P, NSP_S), ("C<sub>2</sub>S", C2S_P, C2S_S), ("HCN", HCN_P, HCN_S),
    ("HNC", HNC_P, HNC_S), ("HCO", HCO_P, HCO_S), ("HCO<sup>+</sup>", HCOP_P, HCOP_S),
    ("H<sub>2</sub>CO", H2CO_P, H2CO_S), ("HNCO", HNCO_P, HNCO_S), ("HC<sub>3</sub>N", HC3N_P, HC3N_S),
    ("CH<sub>2</sub>CO", CH2CO_P, CH2CO_S), ("CH<sub>3</sub>CN", CH3CN_P, CH3CN_S),
    ("CH<sub>3</sub>OH", CH3OH_P, CH3OH_S), ("CH<sub>3</sub>SH", CH3SH_P, CH3SH_S),
    ("NH<sub>2</sub>CHO", NH2CHO_P, NH2CHO_S), ("CH<sub>3</sub>CCH", CH3CCH_P, CH3CCH_S),
    ("CH<sub>3</sub>CHO", CH3CHO_P, CH3CHO_S), ("CH<sub>3</sub>NCO", CH3NCO_P, CH3NCO_S),
    ("HCOOCH<sub>3</sub>", HCOOCH3_P, HCOOCH3_S), ("C<sub>2</sub>H<sub>5</sub>CN", C2H5CN_P, C2H5CN_S),
    ("C<sub>2</sub>H<sub>5</sub>OH", C2H5OH_P, C2H5OH_S), ("CH<sub>3</sub>OCH<sub>3</sub>", CH3OCH3_P, CH3OCH3_S),
]

for _lab, _p, _s in PANELS:
    for _d in (_p, _s):
        for _k, _v in _d.items():
            assert len(_v) == len(LOG_T), (_lab, _k, len(_v))

# ---- styling ----
W, H = 1411, 794
FONT = "DejaVu Sans"
ORANGE = "#D2691E"
GREY = "#BFB6AF"
ORANGE_FILL = "rgba(210,105,30,0.55)"
GREY_FILL = "rgba(181,170,162,0.5)"
COL_X = [83, 304.5, 526, 747.5, 969, 1190.5]
PANEL_W = 177
ROW_TOP = 5
ROW_H = 159.25
Y_RANGE = [-15.05, -2.78]

T = [10 ** v for v in LOG_T]


def px_x(x):
    return x / W


def px_y(y):
    return 1 - y / H


fig = go.Figure()
layout = {}
annotations = []
shapes = []


def band_trace(d, fill, xa, ya):
    xs, hi, lo = [], [], []
    for t, h, l in zip(T, d["s_hi"], d["s_lo"]):
        if h is not None and l is not None:
            xs.append(t); hi.append(h); lo.append(l)
    return go.Scatter(x=xs + xs[::-1], y=hi + lo[::-1], fill="toself", fillcolor=fill,
                      line=dict(width=0), mode="lines", hoverinfo="skip",
                      xaxis=xa, yaxis=ya, showlegend=False)


def limit_traces(d, color, xa, ya):
    xs = T + [None] + T
    ys = d["lim_hi"] + [None] + d["lim_lo"]
    return [
        go.Scatter(x=xs, y=ys, mode="lines", line=dict(color="white", width=4.2),
                   opacity=0.6, xaxis=xa, yaxis=ya, showlegend=False, hoverinfo="skip"),
        go.Scatter(x=xs, y=ys, mode="lines", line=dict(color=color, width=2.8),
                   xaxis=xa, yaxis=ya, showlegend=False, hoverinfo="skip"),
        go.Scatter(x=xs, y=ys, mode="lines", line=dict(color="#222222", width=1.1, dash="5px,3px"),
                   xaxis=xa, yaxis=ya, showlegend=False, hoverinfo="skip"),
    ]


def mean_traces(d, color, xa, ya):
    return [
        go.Scatter(x=T, y=d["mean"], mode="lines", line=dict(color="white", width=5.8),
                   xaxis=xa, yaxis=ya, showlegend=False, hoverinfo="skip"),
        go.Scatter(x=T, y=d["mean"], mode="lines", line=dict(color=color, width=4.0),
                   xaxis=xa, yaxis=ya, showlegend=False, hoverinfo="skip"),
        go.Scatter(x=T, y=d["mean"], mode="lines", line=dict(color="black", width=1.8),
                   xaxis=xa, yaxis=ya, showlegend=False, hoverinfo="skip"),
    ]


TICK_FONT = dict(family=FONT, size=20.5, color="black")

for i, (label, P, S) in enumerate(PANELS):
    r, c = divmod(i, 6)
    n = i + 1
    sfx = "" if n == 1 else str(n)
    xa, ya = "x" + sfx, "y" + sfx

    x0 = px_x(COL_X[c]); x1 = px_x(COL_X[c] + PANEL_W)
    ytop = ROW_TOP + r * ROW_H
    y1 = px_y(ytop); y0 = px_y(ytop + ROW_H)

    layout["xaxis" + sfx] = dict(
        domain=[x0, x1], anchor=ya, type="log", range=[0, 6],
        tickvals=[1, 100, 1e4, 1e6],
        ticktext=["10<sup>0</sup>", "10<sup>2</sup>", "10<sup>4</sup>", "10<sup>6</sup>"],
        minor=dict(tickmode="array", tickvals=[10, 1e3, 1e5], ticks="inside", ticklen=5,
                   tickwidth=1, tickcolor="black", showgrid=False),
        showticklabels=(r == 3), ticks="inside", ticklen=5, tickwidth=1, tickcolor="black",
        showline=True, linecolor="#1a1a1a", linewidth=1.4, mirror="ticks",
        showgrid=False, zeroline=False, fixedrange=True, tickfont=TICK_FONT,
    )
    layout["yaxis" + sfx] = dict(
        domain=[y0, y1], anchor=xa, range=Y_RANGE,
        tickvals=[-12, -8, -4], ticktext=["\u221212", "\u22128", "\u22124"],
        showticklabels=(c == 0), ticks="inside", ticklen=6, tickwidth=1, tickcolor="black",
        minor=dict(ticks="inside", dtick=1, tick0=0, ticklen=3.5, tickwidth=1, tickcolor="black", showgrid=False),
        showline=True, linecolor="#1a1a1a", linewidth=1.4, mirror="ticks",
        showgrid=False, zeroline=False, fixedrange=True, tickfont=TICK_FONT,
    )

    fig.add_trace(band_trace(P, ORANGE_FILL, xa, ya))
    fig.add_trace(band_trace(S, GREY_FILL, xa, ya))
    for tr in limit_traces(S, GREY, xa, ya):
        fig.add_trace(tr)
    for tr in limit_traces(P, ORANGE, xa, ya):
        fig.add_trace(tr)
    for tr in mean_traces(S, "#D9D3CE", xa, ya):
        fig.add_trace(tr)
    for tr in mean_traces(P, ORANGE, xa, ya):
        fig.add_trace(tr)

    annotations.append(dict(
        text=label, xref=xa + " domain", yref=ya + " domain", x=0.07, y=0.885,
        xanchor="left", yanchor="middle", showarrow=False,
        font=dict(family=FONT, size=21, color="black"),
    ))

# Axis titles
annotations.append(dict(text="Time [yr]", xref="paper", yref="paper", x=px_x(719), y=px_y(693),
                        xanchor="center", yanchor="middle", showarrow=False,
                        font=dict(family=FONT, size=22, color="black")))
annotations.append(dict(text="log<sub>10</sub><i>X</i>(Species)<sub>time \u2212 averaged</sub>",
                        xref="paper", yref="paper", x=px_x(21), y=px_y(313), textangle=-90,
                        xanchor="center", yanchor="middle", showarrow=False,
                        font=dict(family=FONT, size=19.5, color="black")))

# Legend drawn by hand
LEG_FONT = dict(family=FONT, size=22, color="black")
shapes += [
    dict(type="line", xref="paper", yref="paper", x0=px_x(218), x1=px_x(252), y0=px_y(746), y1=px_y(746),
         line=dict(color=ORANGE, width=4.5)),
    dict(type="line", xref="paper", yref="paper", x0=px_x(218), x1=px_x(252), y0=px_y(778), y1=px_y(778),
         line=dict(color=GREY, width=4.5)),
    dict(type="line", xref="paper", yref="paper", x0=px_x(485), x1=px_x(511), y0=px_y(746), y1=px_y(746),
         line=dict(color="black", width=2)),
    dict(type="line", xref="paper", yref="paper", x0=px_x(485), x1=px_x(511), y0=px_y(778), y1=px_y(778),
         line=dict(color="black", width=1.5, dash="5px,3px")),
    dict(type="rect", xref="paper", yref="paper", x0=px_x(928), x1=px_x(942), y0=px_y(755), y1=px_y(737),
         fillcolor="#BDB3AB", line=dict(width=0)),
    dict(type="rect", xref="paper", yref="paper", x0=px_x(942), x1=px_x(956), y0=px_y(755), y1=px_y(737),
         fillcolor=ORANGE, line=dict(width=0)),
]
for txt, x, y in [("Protostellar object", 259, 746), ("Shock", 259, 778),
                  ("Mean abundance", 517, 746), ("Upper and lower abundance limits", 517, 778),
                  ("1<i>\u03c3</i> from mean abundance", 963, 746)]:
    annotations.append(dict(text=txt, xref="paper", yref="paper", x=px_x(x), y=px_y(y),
                            xanchor="left", yanchor="middle", showarrow=False, font=LEG_FONT))

fig.update_layout(
    width=W, height=H, margin=dict(l=0, r=0, t=0, b=0),
    paper_bgcolor="white", plot_bgcolor="white",
    showlegend=False, annotations=annotations, shapes=shapes,
    font=dict(family=FONT, color="black"),
    **layout,
)

fig.write_html("out.html")
